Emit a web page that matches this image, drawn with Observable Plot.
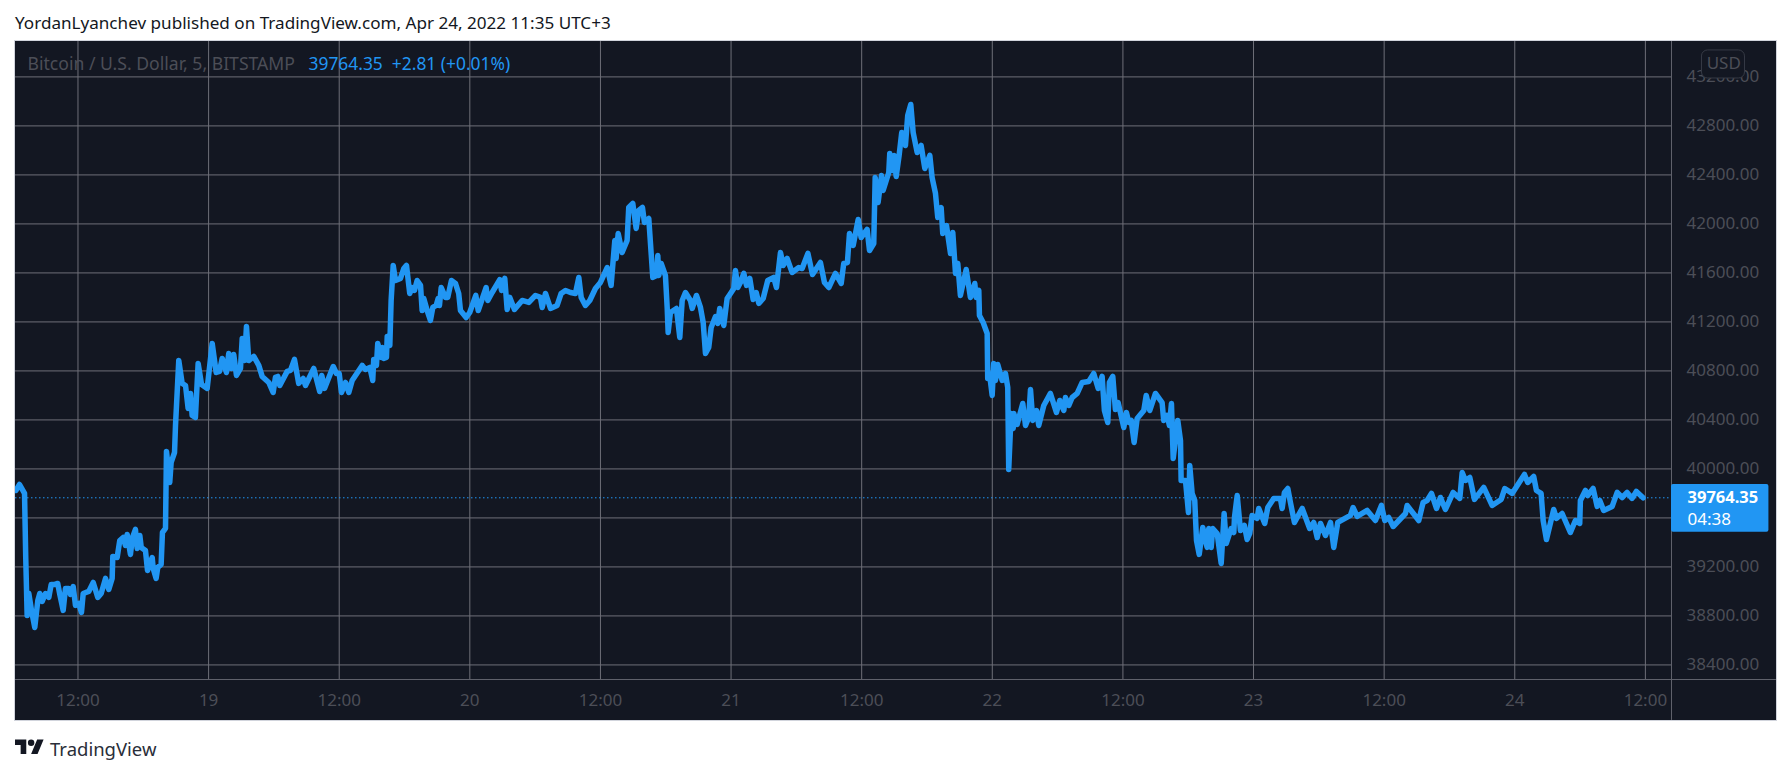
<!DOCTYPE html>
<html>
<head>
<meta charset="utf-8">
<script src="https://cdn.jsdelivr.net/npm/d3@7"></script>
<script src="https://cdn.jsdelivr.net/npm/@observablehq/plot@0.6"></script>
<style>
html,body{margin:0;padding:0;background:#fff;font-family:"Noto Sans",sans-serif;}
#head{height:40px;box-sizing:border-box;padding:11px 0 0 15px;font-size:17.1px;line-height:24px;color:#131722;white-space:nowrap;}
#chart{margin-left:14px;height:681px;}
#chart svg{display:block;outline:1px solid #d1d4dc;outline-offset:-1px;}
#foot{position:absolute;left:15px;top:736px;display:flex;align-items:flex-start;color:#131722;}
#foot svg{display:block;}
#foot span{position:absolute;left:35px;top:-1px;font-size:18.5px;line-height:28px;color:#2a2e39;}
</style>
</head>
<body>
<div id="head">YordanLyanchev published on TradingView.com, Apr 24, 2022 11:35 UTC+3</div>
<div id="chart"></div>
<div id="foot"><svg width="29" height="23" viewBox="0 0 36 28" fill="#131722"><path d="M14 22H7V11H0V4h14v18zM28 22h-8l7.5-18h8L28 22z"/><circle cx="20" cy="8" r="4"/></svg><span>TradingView</span></div>
<script>
// hours since 2022-04-18 00:00
const hours = [6.29,6.63,7.09,7.20,7.33,7.48,7.73,8.03,8.31,8.49,8.71,9.01,9.32,9.54,9.87,10.14,10.33,10.64,10.85,11.15,11.31,11.56,11.77,12.07,12.32,12.48,12.99,13.40,13.82,14.13,14.53,14.83,15.14,15.20,15.60,15.84,16.15,16.36,16.52,16.82,17.01,17.28,17.44,17.68,17.81,18.20,18.39,18.82,18.91,19.18,19.33,19.64,19.76,20.04,20.13,20.43,20.56,20.87,20.96,21.26,21.57,21.88,22.12,22.34,22.49,22.79,23.04,23.35,23.87,
24.33,24.70,25.00,25.25,25.64,25.85,26.10,26.31,26.56,26.93,27.09,27.30,27.48,27.69,28.15,28.61,28.92,29.53,29.93,30.14,30.36,30.54,31.22,31.52,31.89,32.28,32.69,32.90,33.66,34.21,34.40,34.65,35.45,35.75,36.00,36.21,36.58,36.88,37.19,38.11,38.41,38.81,39.08,39.17,39.42,39.54,39.88,39.97,40.09,40.34,40.41,40.65,40.77,40.96,41.17,41.63,41.93,42.18,42.48,42.70,42.91,43.16,43.47,43.62,43.77,44.08,44.38,44.60,44.91,45.09,45.21,45.37,45.76,45.97,46.31,46.68,46.98,47.14,47.66,47.99,
48.55,48.77,49.50,49.65,50.05,50.75,50.91,51.21,51.43,51.67,52.10,52.81,53.42,54.03,54.49,54.65,54.95,55.41,56.02,56.39,56.79,57.25,57.70,58.01,58.23,58.62,59.02,59.54,60.00,60.62,60.98,61.32,61.44,61.63,61.99,62.45,62.60,62.97,63.28,63.52,63.86,64.04,64.44,64.81,65.15,65.27,65.36,65.58,65.97,66.13,66.22,66.43,66.98,67.29,67.51,67.81,68.27,68.43,68.82,69.19,69.44,69.65,69.95,70.17,70.57,70.78,70.96,71.33,71.64,71.95,
72.25,72.40,72.62,72.86,73.17,73.42,73.72,74.03,74.31,74.55,74.95,75.37,75.92,76.17,76.54,76.79,77.15,77.61,78.22,78.53,79.06,79.48,80.21,80.58,80.98,81.59,82.12,82.35,82.69,82.88,83.22,83.68,83.95,84.50,84.72,85.11,85.24,85.51,85.82,85.97,86.49,86.58,86.86,86.98,87.17,87.44,87.68,88.02,88.23,88.51,88.73,89.10,89.46,89.80,90.26,90.47,90.78,90.99,91.30,91.45,91.79,92.16,92.37,92.62,92.83,93.07,93.60,93.99,94.39,94.52,94.76,94.82,95.16,95.53,95.58,95.74,95.99,
96.13,96.29,96.50,96.91,97.21,97.42,97.51,97.73,97.92,97.97,98.28,98.80,99.05,99.35,99.51,99.72,100.06,100.27,100.73,101.34,101.89,102.20,102.57,102.72,103.03,103.34,103.80,104.26,104.86,105.32,105.73,106.09,106.30,106.61,106.76,107.07,107.31,107.56,108.08,108.32,108.54,108.76,109.03,109.31,109.92,110.14,110.47,110.99,111.60,111.75,112.06,112.27,112.46,112.62,113.04,113.29,113.35,113.75,114.02,114.14,114.36,114.60,114.76,115.01,115.34,115.58,115.74,115.89,116.11,116.25,116.66,117.03,117.30,117.49,117.95,118.19,118.25,118.50,118.80,119.16,119.41,119.65,119.87,
120.33,120.48,121.03,121.31,121.86,122.47,122.63,122.84,123.15,123.39,123.76,124.47,125.16,125.53,125.85,126.15,126.61,127.07,127.37,127.74,128.90,129.15,129.52,130.44,131.20,131.75,132.06,132.42,132.83,133.96,134.11,135.18,135.58,135.95,136.35,136.81,137.17,137.63,138.34,138.95,139.17,139.47,139.87,140.30,141.15,141.92,142.75,143.08,143.76,144.89,145.19,145.74,145.99,146.42,146.61,146.91,147.58,147.83,148.35,149.11,149.57,149.97,150.03,150.49,150.70,151.20,151.57,151.81,152.17,152.95,153.41,153.87,154.32,154.78,155.17,155.79];
const prices = [39824,39873,39800,39277,38804,38986,38845,38706,38926,38983,38918,38983,38951,39057,39057,39065,38975,38845,39024,39024,38975,39040,38886,38902,38828,38983,39000,39073,38951,38983,39106,39016,39106,39285,39277,39416,39440,39375,39465,39302,39440,39506,39351,39457,39359,39334,39171,39277,39187,39106,39196,39220,39481,39514,40143,39889,40053,40134,40355,40885,40698,40681,40494,40616,40436,40420,40861,40689,40657,
41024,40787,40796,40902,40787,40942,40820,40934,40763,40820,41065,40885,41163,40885,40918,40845,40755,40706,40624,40747,40755,40681,40796,40804,40894,40698,40738,40681,40820,40632,40763,40657,40836,40779,40779,40624,40706,40624,40722,40845,40812,40828,40722,40894,40845,41024,40910,40991,40902,40910,41081,41008,41375,41661,41538,41555,41636,41661,41432,41481,41457,41538,41498,41293,41391,41293,41212,41318,41334,41391,41334,41481,41400,41400,41538,41514,41432,41293,41236,41277,
41416,41293,41481,41375,41440,41546,41457,41555,41302,41400,41302,41375,41359,41416,41400,41318,41432,41310,41334,41432,41457,41440,41432,41563,41400,41334,41375,41473,41522,41644,41498,41865,41718,41922,41767,41865,42134,42167,41963,42110,42134,42012,42044,41563,41579,41742,41579,41677,41579,41318,41114,41277,41310,41073,41375,41440,41375,41310,41416,41318,41195,40942,40991,41155,41244,41187,41310,41171,41391,41432,
41473,41620,41481,41522,41596,41498,41555,41383,41440,41351,41391,41538,41563,41481,41767,41661,41718,41604,41644,41636,41759,41587,41685,41522,41481,41596,41514,41677,41685,41922,41824,42036,41889,41955,41783,41840,42379,42175,42395,42273,42420,42575,42436,42559,42387,42559,42746,42640,42885,42975,42746,42583,42640,42453,42559,42379,42249,42053,42134,41922,41987,41759,41930,41596,41677,41416,41628,41400,41514,41400,41457,41253,41195,41106,40738,40779,40600,
40861,40722,40853,40722,40779,40665,39996,40453,40330,40453,40363,40534,40355,40420,40649,40396,40477,40355,40518,40616,40461,40559,40477,40583,40518,40583,40616,40706,40714,40779,40657,40755,40477,40379,40706,40755,40485,40542,40338,40461,40379,40396,40216,40412,40477,40600,40477,40616,40542,40396,40436,40355,40534,40085,40396,40232,39906,39906,39645,40028,39800,39742,39416,39302,39522,39416,39359,39514,39359,39514,39473,39228,39636,39391,39514,39481,39604,39783,39498,39538,39424,39473,39620,
39596,39677,39555,39685,39759,39759,39677,39808,39840,39726,39563,39677,39514,39563,39440,39555,39457,39563,39359,39563,39620,39685,39612,39661,39579,39702,39579,39604,39530,39636,39702,39579,39726,39742,39800,39677,39767,39669,39808,39759,39971,39906,39930,39751,39849,39702,39751,39840,39800,39955,39889,39938,39824,39800,39579,39424,39669,39596,39636,39481,39579,39555,39742,39824,39783,39840,39694,39742,39661,39694,39808,39767,39808,39759,39816,39764.35];

const gridPrices = [38400,38800,39200,39600,40000,40400,40800,41200,41600,42000,42400,42800,43200];
const priceTicks = [38400,38800,39200,40000,40400,40800,41200,41600,42000,42400,42800,43200];
const timeTickHours = [12,24,36,48,60,72,84,96,108,120,132,144,156];
const timeTickLabels = ["12:00","19","12:00","20","12:00","21","12:00","22","12:00","23","12:00","24","12:00"];
const lastPrice = 39764.35;
const symbolText = "Bitcoin / U.S. Dollar, 5, BITSTAMP";
const quoteText = "39764.35  +2.81 (+0.01%)";
const countdownText = "04:38";
const currencyText = "USD";
// scale extents
const xStartHour = 6.26, xEndHour = 158.40, panelEndHour = 168.04;
const yMin = 38281, yMax = 43489, panelBottom = 37947;
// price tag and currency box extents, in data units
const tagEndHour = 167.35, tagTop = 39872, tagBottom = 39484, countdownPrice = 39587;
const boxStartHour = 161.2, boxEndHour = 165.15, boxTop = 43416, boxBottom = 43187, boxMidHour = 163.2, boxMidPrice = 43310;

const toDate = h => new Date(Date.UTC(2022, 3, 18) + h * 3600000);
const data = hours.map((h, i) => ({t: toDate(h), p: prices[i]}));
const tickDates = timeTickHours.map(toDate);
const labelOf = new Map(tickDates.map((d, i) => [+d, timeTickLabels[i]]));

const bg = "#131722", gridC = "#6e6f78", sepC = "#5f616b", labelC = "#4c4e57", blue = "#2196f3";
const font = '"Noto Sans",sans-serif';

const chart = Plot.plot({
  width: 1763, height: 681,
  marginLeft: 1, marginRight: 106, marginTop: 1, marginBottom: 42,
  style: {background: bg, fontFamily: font, fontSize: "17px", color: labelC},
  x: {type: "utc", domain: [toDate(xStartHour), toDate(xEndHour)]},
  y: {type: "linear", domain: [yMin, yMax]},
  marks: [
    Plot.gridY({ticks: gridPrices, stroke: gridC, strokeOpacity: 1}),
    Plot.gridX({ticks: tickDates, stroke: gridC, strokeOpacity: 1}),
    Plot.ruleY([yMin], {x1: toDate(xStartHour), x2: toDate(panelEndHour), stroke: sepC}),
    Plot.ruleX([toDate(xEndHour)], {y1: yMax, y2: panelBottom, stroke: sepC}),
    Plot.ruleY([lastPrice], {x1: toDate(xStartHour), x2: toDate(xEndHour), stroke: blue, strokeDasharray: "1.5,2.5", strokeWidth: 1}),
    Plot.line(data, {x: "t", y: "p", stroke: blue, strokeWidth: 5.5, strokeLinejoin: "round", strokeLinecap: "round"}),
    Plot.axisY({anchor: "right", ticks: priceTicks, tickFormat: d => d.toFixed(2), tickSize: 0, tickPadding: 15, fill: labelC, fontSize: 17, label: null}),
    Plot.axisX({anchor: "bottom", ticks: tickDates, tickFormat: d => labelOf.get(+d), tickSize: 0, tickPadding: 14, fill: labelC, fontSize: 17, label: null}),
    Plot.text([symbolText], {frameAnchor: "top-left", dx: 12, dy: 16, textAnchor: "start", fill: labelC, fontSize: 17.6}),
    Plot.text([quoteText], {frameAnchor: "top-left", dx: 293, dy: 16, textAnchor: "start", fill: blue, fontSize: 17.4, style: {whiteSpace: "pre"}}),
    Plot.rect([0], {x1: () => toDate(xEndHour), x2: () => toDate(tagEndHour), y1: () => tagTop, y2: () => tagBottom, fill: blue, rx: 2}),
    Plot.text([lastPrice], {x: () => toDate(xEndHour), y: d => d, dx: 16, textAnchor: "start", text: d => d.toFixed(2), fill: "#fff", fontWeight: 700, fontSize: 16.5}),
    Plot.text([countdownText], {x: () => toDate(xEndHour), y: () => countdownPrice, dx: 16, textAnchor: "start", fill: "#fff", fontSize: 17}),
    Plot.rect([0], {x1: () => toDate(boxStartHour), x2: () => toDate(boxEndHour), y1: () => boxTop, y2: () => boxBottom, fill: bg, stroke: "#363a45", rx: 6}),
    Plot.text([currencyText], {x: () => toDate(boxMidHour), y: () => boxMidPrice, fill: labelC, fontSize: 17})
  ]
});
document.getElementById("chart").appendChild(chart);
</script>
</body>
</html>
